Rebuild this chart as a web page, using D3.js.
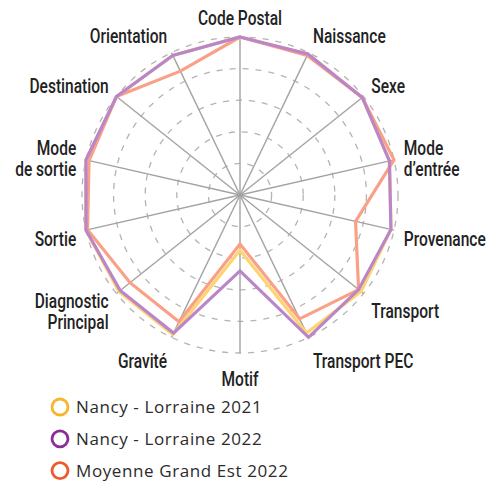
<!DOCTYPE html>
<html>
<head>
<meta charset="utf-8">
<script src="https://cdn.jsdelivr.net/npm/d3@7"></script>
<style>
  body { margin: 0; background: #fff; }
  .lab { font-family: Roboto, "Liberation Sans", sans-serif; font-weight: 500; font-size: 21px; fill: #222; }
  .leg { font-family: "Open Sans", sans-serif; font-size: 17px; fill: #2b2b2b; letter-spacing: 0.6px; }
</style>
</head>
<body>
<script>
var axes = ["Code Postal", "Naissance", "Sexe", "Mode\nd\u2019entr\u00e9e", "Provenance", "Transport",
  "Transport PEC", "Motif", "Gravit\u00e9", "Diagnostic\nPrincipal", "Sortie", "Mode\nde sortie",
  "Destination", "Orientation"]

var nancy2021 = [100, 99, 99, 97, 98, 98, 97, 35, 98, 98, 100, 100, 100, 98]
var nancy2022 = [100, 99, 99, 97, 98, 96, 100, 48, 97, 97, 100, 100, 100, 98]
var moyenne2022 = [100, 98, 99, 100, 75, 96, 87, 31, 89, 89, 99, 98, 100, 87]

var seriesNames = ["Nancy - Lorraine 2021", "Nancy - Lorraine 2022", "Moyenne Grand Est 2022"]
var lineColors = ["#ffd46e", "#bb85c9", "#f9a087"]
var legendColors = ["#f9b42b", "#8c2c98", "#ef5a2a"]

var width = 491, height = 486
var cx = 240, cy = 195, R = 158

var svg = d3.select("body").append("svg")
  .attr("width", width)
  .attr("height", height)

var r = d3.scaleLinear().domain([0, 100]).range([0, R])
var angle = d3.scaleLinear().domain([0, axes.length]).range([0, 2 * Math.PI])

var g = svg.append("g").attr("transform", "translate(" + cx + "," + cy + ")")

// dashed rings
g.selectAll("circle.ring")
  .data([20, 40, 60, 80, 100])
  .enter().append("circle")
    .attr("class", "ring")
    .attr("r", function (d) { return r(d) })
    .attr("fill", "none")
    .attr("stroke", "#b3b3b3")
    .attr("stroke-width", 1.3)
    .attr("stroke-dasharray", "6,7")

// spokes
g.selectAll("line.spoke")
  .data(axes)
  .enter().append("line")
    .attr("class", "spoke")
    .attr("x1", 0).attr("y1", 0)
    .attr("x2", function (d, i) { return r(100) * Math.sin(angle(i)) })
    .attr("y2", function (d, i) { return -r(100) * Math.cos(angle(i)) })
    .attr("stroke", "#a3a3a3")
    .attr("stroke-width", 1.4)

var radial = d3.lineRadial()
  .angle(function (d, i) { return angle(i) })
  .radius(function (d) { return r(d) })
  .curve(d3.curveLinearClosed)

var series = [nancy2021, moyenne2022, nancy2022]
var seriesColors = [lineColors[0], lineColors[2], lineColors[1]]

g.selectAll("path.serie")
  .data(series)
  .enter().append("path")
    .attr("class", "serie")
    .attr("d", radial)
    .attr("fill", "none")
    .attr("stroke", function (d, i) { return seriesColors[i] })
    .attr("stroke-width", 3.2)
    .attr("stroke-linejoin", "miter")

// axis labels, condensed by a horizontal squeeze
var labR = r(100) + 10
var labels = g.selectAll("text.lab")
  .data(axes)
  .enter().append("text")
    .attr("class", "lab")
    .attr("transform", function (d, i) {
      var a = angle(i)
      var x = labR * Math.sin(a)
      var y = -labR * Math.cos(a) + 10.5 - 12.5 * Math.cos(a)
      return "translate(" + x + "," + y + ") scale(0.74,1)"
    })
    .attr("text-anchor", function (d, i) {
      var s = Math.sin(angle(i))
      if (Math.abs(s) < 0.1) return "middle"
      return s > 0 ? "start" : "end"
    })

labels.each(function (d, i) {
  var lines = d.split("\n")
  var h = 21
  var y0 = -(lines.length - 1) * h / 2
  var t = d3.select(this)
  lines.forEach(function (l, k) {
    t.append("tspan").attr("x", 0).attr("y", y0 + k * h).text(l)
  })
})

// legend
var leg = svg.selectAll("g.legend")
  .data(seriesNames)
  .enter().append("g")
    .attr("class", "legend")
    .attr("transform", function (d, i) { return "translate(60," + (407 + i * 31.8) + ")" })

leg.append("circle")
  .attr("r", 8)
  .attr("fill", "none")
  .attr("stroke", function (d, i) { return legendColors[i] })
  .attr("stroke-width", 2.8)

leg.append("text")
  .attr("class", "leg")
  .attr("x", 16)
  .attr("y", 6)
  .text(function (d) { return d })
</script>
</body>
</html>
